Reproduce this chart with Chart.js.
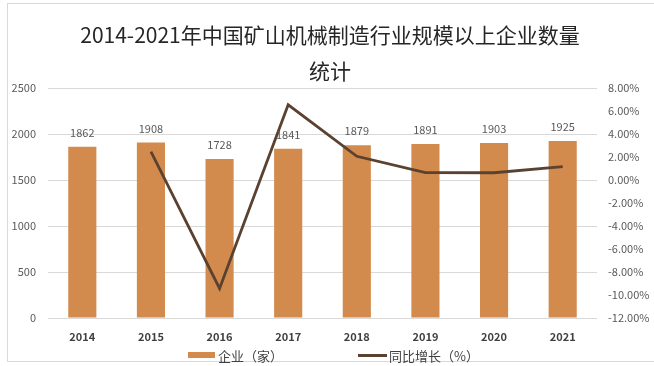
<!DOCTYPE html>
<html>
<head>
<meta charset="utf-8">
<script src="https://cdn.jsdelivr.net/npm/chart.js@4/dist/chart.umd.min.js"></script>
<style>
  html, body { margin: 0; padding: 0; background: #fff; }
  #wrap { position: relative; width: 654px; height: 366px; overflow: hidden; background: #fff; }
  #frame { position: absolute; left: 7px; top: 3px; width: 700px; height: 359px; border: 1px solid #d9d9d9; border-right: none; box-sizing: border-box; }
  canvas { position: absolute; left: 0; top: 0; }
  .leg { position: absolute; top: 346px; height: 18px; display: flex; align-items: center; font-family: "Noto Sans CJK SC", sans-serif; font-size: 13px; color: #404040; white-space: nowrap; }
  .sw-bar { display: inline-block; width: 27px; height: 6px; background: #D38B4D; margin-right: 3px; }
  .sw-line { display: inline-block; width: 29px; height: 3px; background: #5B4230; margin-right: 2px; }
</style>
</head>
<body>
<div id="wrap">
  <div id="frame"></div>
  <canvas id="c" width="654" height="366"></canvas>
  <div class="leg" style="left:188px"><span class="sw-bar"></span><span id="l1"></span></div>
  <div class="leg" style="left:358px"><span class="sw-line"></span><span id="l2"></span></div>
</div>
<script>
const categories = ["2014", "2015", "2016", "2017", "2018", "2019", "2020", "2021"];
const companies = [1862, 1908, 1728, 1841, 1879, 1891, 1903, 1925];
const growth = [null, 2.47, -9.43, 6.54, 2.06, 0.64, 0.63, 1.16];
const leftTicks = [0, 500, 1000, 1500, 2000, 2500];
const rightTicks = [-12, -10, -8, -6, -4, -2, 0, 2, 4, 6, 8];
const seriesNames = ["企业（家）", "同比增长（%）"];
const titleLines = ["2014-2021年中国矿山机械制造行业规模以上企业数量", "统计"];

document.getElementById('l1').textContent = seriesNames[0];
document.getElementById('l2').textContent = seriesNames[1];

const titlePlugin = {
  id: 'titleText',
  afterDraw(chart) {
    const ctx = chart.ctx;
    ctx.save();
    ctx.font = '21px "Noto Sans CJK SC", sans-serif';
    ctx.fillStyle = '#262626';
    ctx.textAlign = 'center';
    ctx.textBaseline = 'middle';
    ctx.fillText(titleLines[0], 330, 35);
    ctx.fillText(titleLines[1], 330, 71);
    ctx.restore();
  }
};

const barLabels = {
  id: 'barLabels',
  afterDatasetsDraw(chart) {
    const ctx = chart.ctx;
    const meta = chart.getDatasetMeta(1);
    ctx.save();
    ctx.font = '11px "Noto Sans CJK SC", sans-serif';
    ctx.fillStyle = '#595959';
    ctx.textAlign = 'center';
    ctx.textBaseline = 'middle';
    meta.data.forEach((el, i) => {
      ctx.fillText(String(companies[i]), el.x, el.y - 14);
    });
    ctx.restore();
  }
};

new Chart(document.getElementById('c'), {
  data: {
    labels: categories,
    datasets: [
      {
        type: 'line',
        label: seriesNames[1],
        data: growth,
        yAxisID: 'y2',
        borderColor: '#5B4230',
        borderWidth: 2.8,
        pointRadius: 0,
        tension: 0,
        spanGaps: false,
        order: 0
      },
      {
        type: 'bar',
        label: seriesNames[0],
        data: companies,
        yAxisID: 'y',
        backgroundColor: '#D38B4D',
        categoryPercentage: 1,
        barPercentage: 0.41,
        order: 1
      }
    ]
  },
  options: {
    responsive: false,
    animation: false,
    layout: { padding: { left: 0, right: 0, top: 88, bottom: 0 } },
    plugins: {
      legend: { display: false },
      tooltip: { enabled: false },
      title: { display: false }
    },
    scales: {
      x: {
        grid: { display: false, drawTicks: false },
        border: { display: false },
        ticks: { color: '#404040', padding: 12, font: { family: '"Noto Sans CJK SC", sans-serif', size: 11, weight: 'bold' } },
        afterFit(s) { s.height = 48; }
      },
      y: {
        position: 'left',
        min: 0, max: 2500,
        afterBuildTicks(s) { s.ticks = leftTicks.map(v => ({ value: v })); },
        grid: { color: '#d9d9d9', lineWidth: 1, drawTicks: false },
        border: { display: false },
        ticks: {
          color: '#595959', padding: 12,
          font: { family: '"Noto Sans CJK SC", sans-serif', size: 11 },
          callback: v => String(v)
        },
        afterFit(s) { s.width = 48; }
      },
      y2: {
        position: 'right',
        min: -12, max: 8,
        afterBuildTicks(s) { s.ticks = rightTicks.map(v => ({ value: v })); },
        grid: { display: false, drawTicks: false },
        border: { display: false },
        ticks: {
          color: '#595959', padding: 11,
          font: { family: '"Noto Sans CJK SC", sans-serif', size: 11 },
          callback: v => v.toFixed(2) + '%'
        },
        afterFit(s) { s.width = 57; }
      }
    }
  },
  plugins: [barLabels, titlePlugin]
});
</script>
</body>
</html>
